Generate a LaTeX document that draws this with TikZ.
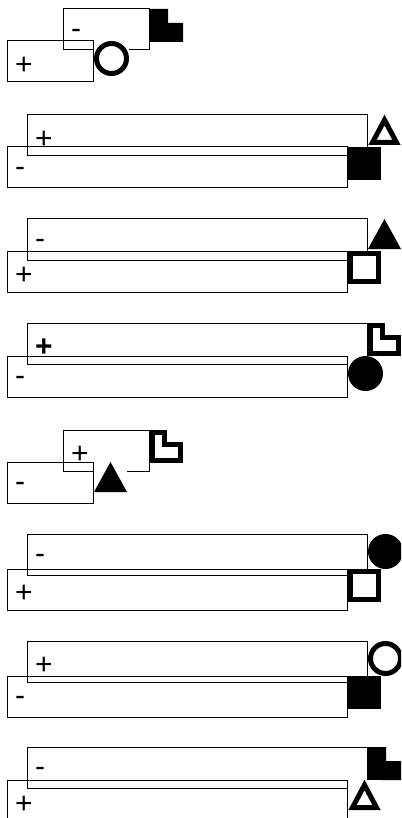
\documentclass[tikz,border=0pt]{standalone}
\usepackage{fontspec}
\setmainfont{Liberation Sans}

\tikzset{
  panel/.style={draw=black, line width=1pt},
  sign/.style={anchor=west, inner sep=0pt, font=\fontsize{30}{32}\selectfont},
  heavy/.style={line width=5pt},
  pics/fsquare/.style={code={\fill (0,0) rectangle (33,33);}},
  pics/osquare/.style={code={\filldraw[fill=white, heavy] (2.5,2.5) rectangle (30.5,30.5);}},
  pics/fdisc/.style={code={\fill[white] (0,0) rectangle (35,35); \fill (17.5,17.5) circle (17.5);}},
  pics/odisc/.style={code={\fill[white] (0,0) rectangle (35,35); \draw[heavy] (17.5,17.5) circle (15);}},
  pics/ftri/.style={code={\fill[white] (0,0) rectangle (33,33); \fill (16.5,0) -- (33,30) -- (0,30) -- cycle;}},
  pics/otri/.style={code={\fill[white] (0,0) rectangle (33,33); \draw[heavy, line join=miter] (16.5,5) -- (28.5,27.5) -- (4.5,27.5) -- cycle;}},
  pics/fnotch/.style={code={\fill[white] (0,0) rectangle (33,33); \fill (0,0) -- (18,0) -- (18,14) -- (33,14) -- (33,33) -- (0,33) -- cycle;}},
  pics/onotch/.style={code={\filldraw[fill=white, heavy] (2.5,2.5) -- (14,2.5) -- (14,14) -- (30.5,14) -- (30.5,30.5) -- (2.5,30.5) -- cycle;}},
}

\begin{document}
\begin{tikzpicture}[x=1pt, y=-1pt]
  \useasboundingbox (0,0) rectangle (401,818);
  \clip (0,0) rectangle (401,818);
  % upper box first, then lower one; each mark sits on its box's top right corner
  \foreach \n/\l/\t/\r/\s/\m in {
      au/63/9/149/-/fnotch, al/7/41/93/+/odisc,
      bu/27/115/367/+/otri, bl/7/147/347/-/fsquare,
      cu/27/219/367/-/ftri, cl/7/251/347/+/osquare,
      du/27/323/367/\textbf{+}/onotch, dl/7/356/347/-/fdisc,
      eu/63/430/149/+/onotch, el/7/462/93/-/ftri,
      fu/27/534/367/-/fdisc, fl/7/569/347/+/osquare,
      gu/27/641/367/+/odisc, gl/7/676/347/-/fsquare,
      hu/27/747/367/-/fnotch, hl/7/780/347/+/otri}
  {
    \draw[panel] (\l,\t) rectangle (\r,\t+41);
    \node[sign] (\n) at (\l+8,\t+24.5) {\s};
    \pic at (\r+1,\t) {\m};
  }
\end{tikzpicture}
\end{document}
